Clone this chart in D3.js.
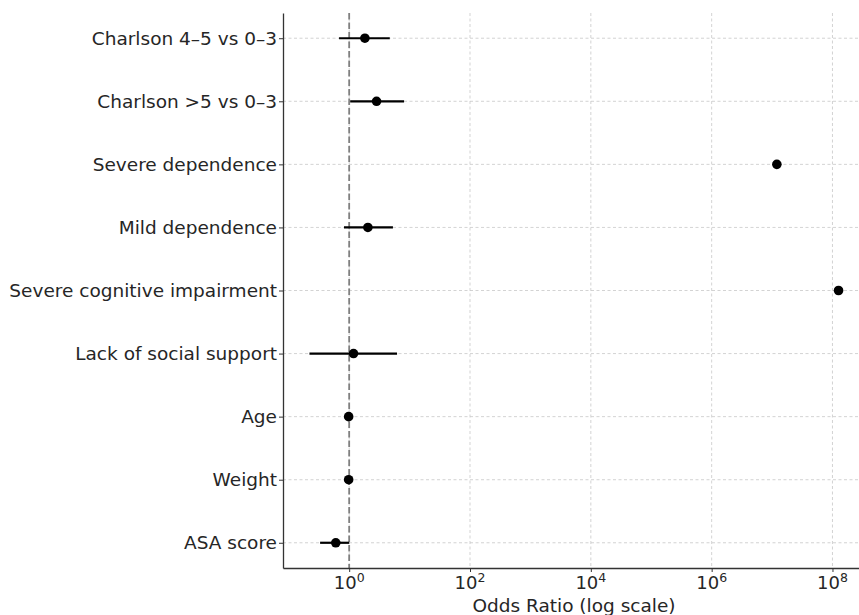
<!DOCTYPE html>
<html>
<head>
<meta charset="utf-8">
<script src="https://cdn.jsdelivr.net/npm/d3@7"></script>
<style>
  body { margin: 0; background: #fff; overflow: hidden; }
  text { font-family: "DejaVu Sans", sans-serif; fill: #262626; }
</style>
</head>
<body>
<svg id="chart" width="859" height="615"></svg>
<script>
// rows listed bottom to top
var labels = [
    "ASA score",
    "Weight",
    "Age",
    "Lack of social support",
    "Severe cognitive impairment",
    "Mild dependence",
    "Severe dependence",
    "Charlson >5 vs 0–3",
    "Charlson 4–5 vs 0–3"
]
var oddsRatio = [0.6, 0.98, 0.98, 1.18, 1.26e8, 2.04, 1.2e7, 2.84, 1.82]
var ciLow     = [0.33, 0.96, 0.96, 0.22, null, 0.82, null, 1.04, 0.68]
var ciHigh    = [1.0, 1.0, 1.0, 6.2, null, 5.3, null, 8.1, 4.7]
var xTicks = [1, 1e2, 1e4, 1e6, 1e8]

var rows = labels.map(function(l, i) {
    return { label: l, or: oddsRatio[i], lo: ciLow[i], hi: ciHigh[i], idx: i };
});

var svg = d3.select("#chart"),
    mLeft = 283, mRight = 865, mTop = 13, mBottom = 568,
    fs = 18.5;

// log domain with 5% padding like matplotlib autoscale
var allVals = oddsRatio.concat(ciLow, ciHigh).filter(function(v) { return v != null; });
var lmin = Math.log10(d3.min(allVals)), lmax = Math.log10(d3.max(allVals)),
    pad = (lmax - lmin) * 0.05;

var x = d3.scaleLog()
    .domain([Math.pow(10, lmin - pad), Math.pow(10, lmax + pad)])
    .range([mLeft, mRight]);

var y = d3.scaleLinear()
    .domain([-0.4, labels.length - 1 + 0.4])
    .range([mBottom, mTop]);

var grid = svg.append("g");

grid.selectAll(".vgrid")
    .data(xTicks)
    .enter().append("line")
    .attr("x1", function(d) { return x(d); })
    .attr("x2", function(d) { return x(d); })
    .attr("y1", mTop).attr("y2", mBottom)
    .attr("stroke", "#c8c8c8")
    .attr("stroke-width", 0.8)
    .attr("stroke-dasharray", "3,2.5");

grid.selectAll(".hgrid")
    .data(rows)
    .enter().append("line")
    .attr("x1", mLeft).attr("x2", mRight)
    .attr("y1", function(d) { return y(d.idx); })
    .attr("y2", function(d) { return y(d.idx); })
    .attr("stroke", "#c8c8c8")
    .attr("stroke-width", 0.8)
    .attr("stroke-dasharray", "3,2.5");

// reference line at OR = 1
svg.append("line")
    .attr("x1", x(1)).attr("x2", x(1))
    .attr("y1", mTop).attr("y2", mBottom)
    .attr("stroke", "#808080")
    .attr("stroke-width", 1.8)
    .attr("stroke-dasharray", "6.5,3");

svg.selectAll(".ci")
    .data(rows.filter(function(d) { return d.lo != null; }))
    .enter().append("line")
    .attr("x1", function(d) { return x(d.lo); })
    .attr("x2", function(d) { return x(d.hi); })
    .attr("y1", function(d) { return y(d.idx); })
    .attr("y2", function(d) { return y(d.idx); })
    .attr("stroke", "#000")
    .attr("stroke-width", 2.2);

svg.selectAll(".pt")
    .data(rows)
    .enter().append("circle")
    .attr("cx", function(d) { return x(d.or); })
    .attr("cy", function(d) { return y(d.idx); })
    .attr("r", 4.8)
    .attr("fill", "#000");

// axes
var xAxis = svg.append("g")
    .attr("transform", "translate(0," + mBottom + ")")
    .call(d3.axisBottom(x).tickValues(xTicks).tickSize(4).tickSizeOuter(0).tickFormat(""));
xAxis.select(".domain").attr("stroke", "#333").attr("stroke-width", 1.3);
xAxis.selectAll(".tick line").attr("stroke", "#333");

var tl = svg.selectAll(".xlab")
    .data(xTicks)
    .enter().append("text")
    .attr("x", function(d) { return x(d); })
    .attr("y", mBottom + 21)
    .attr("text-anchor", "middle")
    .style("font-size", "18px");
tl.append("tspan").text("10");
tl.append("tspan")
    .attr("dy", -7)
    .style("font-size", "12.5px")
    .text(function(d) { return Math.round(Math.log10(d)); });

var yAxis = svg.append("g")
    .attr("transform", "translate(" + mLeft + ",0)")
    .call(d3.axisLeft(y).tickValues(rows.map(function(d) { return d.idx; }))
        .tickSize(4).tickSizeOuter(0).tickPadding(2)
        .tickFormat(function(i) { return labels[i]; }));
yAxis.select(".domain").attr("stroke", "#333").attr("stroke-width", 1.3);
yAxis.selectAll(".tick line").attr("stroke", "#333");
yAxis.selectAll(".tick text")
    .style("font-size", fs + "px")
    .style("font-family", "DejaVu Sans, sans-serif")
    .attr("fill", "#262626");

svg.append("text")
    .attr("x", (mLeft + mRight) / 2)
    .attr("y", mBottom + 44)
    .attr("text-anchor", "middle")
    .style("font-size", fs + "px")
    .text("Odds Ratio (log scale)");
</script>
</body>
</html>
